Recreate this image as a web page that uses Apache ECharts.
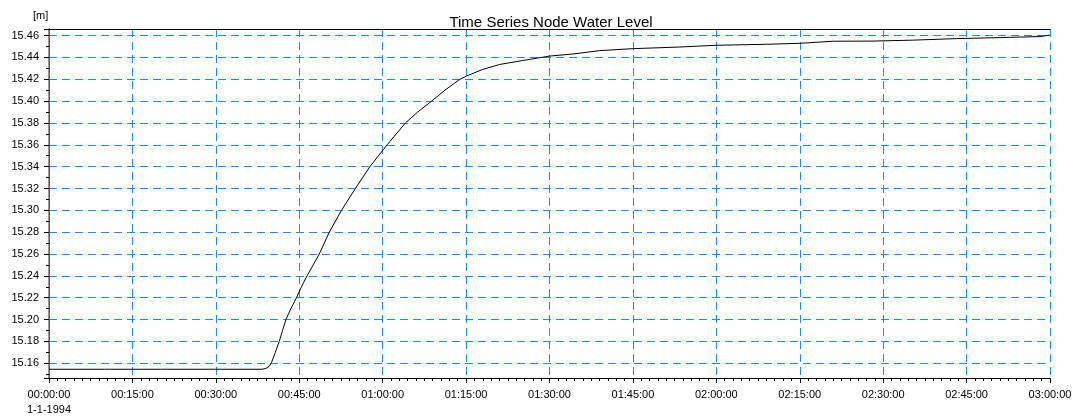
<!DOCTYPE html>
<html>
<head>
<meta charset="utf-8">
<script src="https://cdn.jsdelivr.net/npm/echarts@6/dist/echarts.min.js"></script>
<style>
  html, body { margin: 0; padding: 0; background: #fff; }
  #chart { width: 1080px; height: 417px; }
</style>
</head>
<body>
<div id="chart"></div>
<script>
// Simulation output: water level at one node, minutes after the start time
const chartTitle = 'Time Series Node Water Level';
const unitLabel = '[m]';
const startDate = '1-1-1994';

const timeMinutes = [
  0, 10, 20, 30, 38.3, 39.0, 39.6, 40.0, 40.7, 41.4, 42.0, 42.6, 43.5, 44.5,
  45.4, 46.4, 47.5, 48.6, 50.4, 52.6, 55.1, 57.7, 60.8, 64.1, 66.3, 68.8,
  71.2, 73.9, 75.0, 78.0, 81.0, 85.0, 90.0, 94.2, 99.0, 105.0, 113.4, 120.0,
  129.0, 135.0, 141.0, 148.0, 155.3, 163.2, 171.6, 178.2, 180.0
];
const waterLevel = [
  15.1545, 15.1545, 15.1545, 15.1545, 15.1545, 15.1552, 15.1572, 15.1605,
  15.170, 15.180, 15.190, 15.200, 15.210, 15.220, 15.230, 15.240, 15.250,
  15.260, 15.280, 15.300, 15.320, 15.340, 15.360, 15.380, 15.390, 15.400,
  15.410, 15.420, 15.4228, 15.429, 15.4335, 15.437, 15.4412, 15.4431,
  15.4462, 15.448, 15.4495, 15.4511, 15.452, 15.4529, 15.4548, 15.4549,
  15.4558, 15.4572, 15.4582, 15.4591, 15.4604
];

// axis ranges
const xMin = 0, xMax = 180, xStep = 15;
const yMin = 15.1465, yMax = 15.466;

const font = "'Liberation Sans', Arial, sans-serif";
const gridBlue = 'rgb(30,136,255)';

function pad(n) { return (n < 10 ? '0' : '') + n; }
function clockLabel(v) {
  const h = Math.floor(v / 60);
  const m = Math.round(v - h * 60);
  const s = pad(h) + ':' + pad(m) + ':00';
  return v === 0 ? s + '\n' + startDate : s;
}

const chart = echarts.init(document.getElementById('chart'), null, { renderer: 'canvas' });

chart.setOption({
  animation: false,
  backgroundColor: '#fff',
  textStyle: { fontFamily: font },
  title: {
    text: chartTitle,
    left: 546, top: 10, textAlign: 'center',
    textStyle: { fontFamily: font, fontSize: 15, fontWeight: 'normal', color: '#000' }
  },
  graphic: [{
    type: 'text', left: 33, top: 10,
    style: { text: unitLabel, fontFamily: font, fontSize: 11, fill: '#000' }
  }],
  grid: { left: 49, right: 30, top: 29, bottom: 38 },
  xAxis: [{
    type: 'value', min: xMin, max: xMax, interval: xStep,
    axisLine: { show: true, lineStyle: { color: '#000', width: 1 } },
    axisTick: { show: true, length: 5, lineStyle: { color: '#000' } },
    minorTick: { show: true, splitNumber: 10, length: 3, lineStyle: { color: '#000' } },
    axisLabel: {
      formatter: clockLabel, margin: 9, color: '#000', fontSize: 11,
      fontFamily: font, lineHeight: 15
    },
    splitLine: { show: true, lineStyle: { color: gridBlue, width: 1, type: [8, 5] } }
  }, {
    type: 'value', min: xMin, max: xMax, position: 'top',
    axisLine: { show: true, lineStyle: { color: '#000', width: 1 } },
    axisTick: { show: false }, axisLabel: { show: false }, splitLine: { show: false }
  }],
  yAxis: [{
    type: 'value', min: yMin, max: yMax, splitNumber: 16,
    axisLine: { show: true, lineStyle: { color: '#000', width: 1 } },
    axisTick: { show: true, length: 5, lineStyle: { color: '#000' } },
    minorTick: { show: true, splitNumber: 2, length: 3, lineStyle: { color: '#000' } },
    axisLabel: {
      formatter: v => v.toFixed(2), margin: 10, color: '#000', fontSize: 11,
      fontFamily: font, showMinLabel: false, showMaxLabel: false
    },
    splitLine: { show: true, lineStyle: { color: gridBlue, width: 1, type: [8, 5] } }
  }, {
    type: 'value', min: yMin, max: yMax, position: 'right',
    axisLine: { show: true, lineStyle: { color: '#777', width: 1.5 } },
    axisTick: { show: false }, axisLabel: { show: false }, splitLine: { show: false }
  }],
  series: [{
    type: 'line',
    xAxisIndex: 0, yAxisIndex: 0,
    data: timeMinutes.map((t, i) => [t, waterLevel[i]]),
    showSymbol: false,
    lineStyle: { color: '#000', width: 1 },
    z: 5
  }]
});
</script>
</body>
</html>
